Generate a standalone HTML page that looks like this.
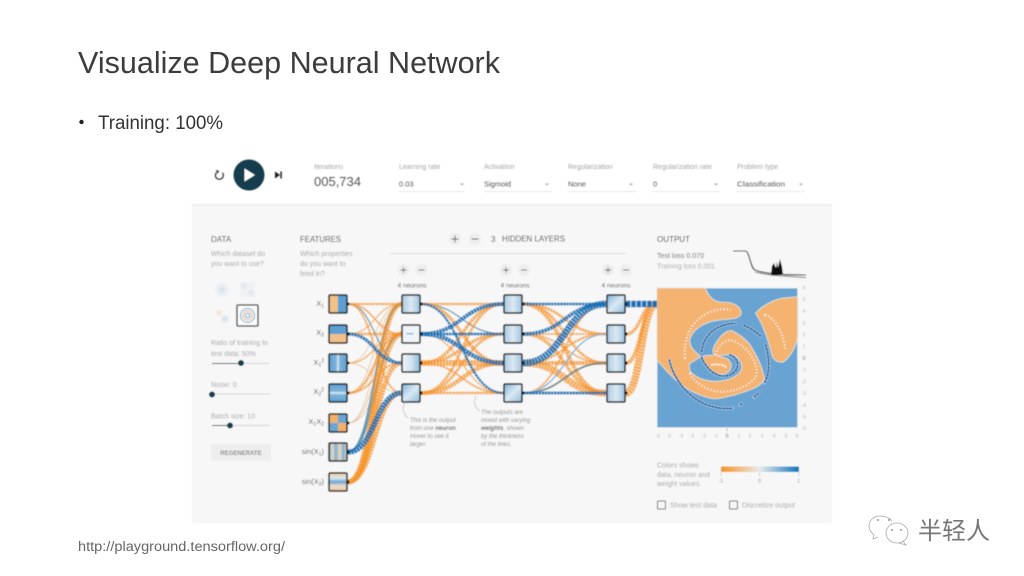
<!DOCTYPE html>
<html><head><meta charset="utf-8"><style>
html,body{margin:0;padding:0;background:#fff}
svg{display:block}
text{font-family:"Liberation Sans","Noto Sans CJK SC",sans-serif}
.o path{fill:none;stroke:#f59322;stroke-opacity:.75;stroke-dasharray:2.6 .5}
.b path{fill:none;stroke:#1272b6;stroke-opacity:.92;stroke-dasharray:2.6 .5}
.g path{fill:none;stroke:#4d87a8;stroke-opacity:.8}
.t path{fill:none;stroke:#e5c7a0;stroke-width:.9}
.l{font-size:7px;fill:#a5a5a5}
.v{font-size:7.5px;fill:#555}
.h{font-size:8px;fill:#444}
.f{font-size:7.5px;fill:#555;text-anchor:end}
.s{font-size:5px}
.n{font-size:6px;fill:#8a8a8a;font-style:italic}
.tk{font-size:5px;fill:#b5b5b5;text-anchor:middle}
.m{font-size:6.5px;fill:#555;text-anchor:middle}
.node{fill:none;stroke:#1c1c1c;stroke-width:1.5}
</style></head><body>
<svg xmlns="http://www.w3.org/2000/svg" width="1024" height="576" viewBox="0 0 1024 576">
<defs>
<filter id="bl" x="-2%" y="-2%" width="104%" height="104%"><feGaussianBlur stdDeviation=".4"/></filter>
<filter id="bh" x="-5%" y="-5%" width="110%" height="110%"><feGaussianBlur stdDeviation=".7"/></filter>
<linearGradient id="cb"><stop offset="0" stop-color="#f59322"/><stop offset=".5" stop-color="#e8eaeb"/><stop offset="1" stop-color="#0877bd"/></linearGradient>
<linearGradient id="h1" x1="0" x2="1" y1="0" y2="1"><stop offset="0" stop-color="#7fb3d9"/><stop offset=".5" stop-color="#dbe9f3"/><stop offset="1" stop-color="#8dbbdc"/></linearGradient>
<linearGradient id="h2" x1="0" x2="1" y1="0" y2="0"><stop offset="0" stop-color="#f2f6f9"/><stop offset=".55" stop-color="#cfe1ee"/><stop offset="1" stop-color="#8ab9db"/></linearGradient>
<linearGradient id="h3" x1="0" x2="1" y1="0" y2="0"><stop offset="0" stop-color="#a9cbe3"/><stop offset=".5" stop-color="#dde9f2"/><stop offset="1" stop-color="#9fc5e0"/></linearGradient>
<linearGradient id="s1"><stop offset="0" stop-color="#5f9fd0"/><stop offset=".18" stop-color="#f2d8b8"/><stop offset=".38" stop-color="#7cb0d8"/><stop offset=".6" stop-color="#f2d8b8"/><stop offset=".8" stop-color="#7cb0d8"/><stop offset="1" stop-color="#f2d8b8"/></linearGradient>
<linearGradient id="s2" x1="0" x2="0" y1="0" y2="1"><stop offset="0" stop-color="#f2cfa6"/><stop offset=".3" stop-color="#d9e5ee"/><stop offset=".5" stop-color="#6aa6d4"/><stop offset=".7" stop-color="#e8dccb"/><stop offset="1" stop-color="#f0c9a0"/></linearGradient>
<linearGradient id="x1"><stop offset="0" stop-color="#5c9fd2"/><stop offset=".4" stop-color="#7fb3da"/><stop offset=".5" stop-color="#dde9f2"/><stop offset=".6" stop-color="#7fb3da"/><stop offset="1" stop-color="#5c9fd2"/></linearGradient>
<linearGradient id="x2" x1="0" x2="0" y1="0" y2="1"><stop offset="0" stop-color="#5c9fd2"/><stop offset=".4" stop-color="#7fb3da"/><stop offset=".5" stop-color="#dde9f2"/><stop offset=".6" stop-color="#7fb3da"/><stop offset="1" stop-color="#5c9fd2"/></linearGradient>
</defs>
<rect width="1024" height="576" fill="#fff"/>

<!-- slide text -->
<text x="78" y="73" font-size="31" fill="#3c3c3c" textLength="422" lengthAdjust="spacingAndGlyphs">Visualize Deep Neural Network</text>
<circle cx="81.500" cy="122" r="2.200" fill="#222"/>
<text x="98" y="129" font-size="19" fill="#333" textLength="125" lengthAdjust="spacingAndGlyphs">Training: 100%</text>
<text x="78" y="551" font-size="13.500" fill="#666" textLength="207" lengthAdjust="spacingAndGlyphs">http://playground.tensorflow.org/</text>

<g filter="url(#bl)">
<rect x="192" y="205" width="640" height="318" fill="#f7f7f7"/>
<rect x="192" y="204" width="640" height="2" fill="#eeeeee"/>

<!-- top bar -->
<path d="M216.200 172.800A4 4 0 1 0 222.500 172.800" fill="none" stroke="#444" stroke-width="1.400"/>
<path d="M216 169.800L219.500 171.200L216.800 174Z" fill="#444"/>
<circle cx="249" cy="175" r="15.500" fill="#183d4e"/>
<path d="M244.500 168.500L255 175L244.500 181.500Z" fill="#fff"/>
<path d="M275 171.500L280 175L275 178.500Z" fill="#222"/><rect x="280.300" y="171.500" width="1.500" height="7" fill="#222"/>
<text x="314" y="169" class="l" textLength="29" lengthAdjust="spacingAndGlyphs">Iterations</text>
<text x="314" y="186" font-size="12.500" fill="#555" textLength="47" lengthAdjust="spacingAndGlyphs">005,734</text>
<text x="399" y="169" class="l">Learning rate</text><text x="399" y="186.500" class="v">0.03</text>
<text x="484" y="169" class="l">Activation</text><text x="484" y="186.500" class="v">Sigmoid</text>
<text x="568" y="169" class="l">Regularization</text><text x="568" y="186.500" class="v">None</text>
<text x="653" y="169" class="l">Regularization rate</text><text x="653" y="186.500" class="v">0</text>
<text x="737" y="169" class="l">Problem type</text><text x="737" y="186.500" class="v" textLength="48" lengthAdjust="spacingAndGlyphs">Classification</text>
<g stroke="#e2e2e2" stroke-width=".8"><path d="M399 191.500H465M484 191.500H552M568 191.500H636M653 191.500H720M737 191.500H805"/></g>
<g fill="#aaa"><path d="M460 183.500h4l-2 2zM545 183.500h4l-2 2zM629 183.500h4l-2 2zM714 183.500h4l-2 2zM799 183.500h4l-2 2z"/></g>

<!-- headers -->
<text x="211" y="242" class="h">DATA</text>
<text x="211" y="256" class="l">Which dataset do</text>
<text x="211" y="266" class="l">you want to use?</text>
<text x="300" y="242" class="h" textLength="41" lengthAdjust="spacingAndGlyphs">FEATURES</text>
<text x="300" y="256" class="l">Which properties</text>
<text x="300" y="266" class="l">do you want to</text>
<text x="300" y="276" class="l">feed in?</text>
<circle cx="455" cy="239" r="6" fill="#eee"/><circle cx="475" cy="239" r="6" fill="#eee"/>
<path d="M451.500 239h7M455 235.500v7M471.500 239h7" stroke="#555" stroke-width=".9"/>
<text x="491" y="242" class="h">3</text>
<text x="502" y="241.500" class="h" textLength="63" lengthAdjust="spacingAndGlyphs">HIDDEN LAYERS</text>
<path d="M390 253.500H627" stroke="#dedede" stroke-width=".9"/>
<text x="657" y="242" class="h" textLength="33" lengthAdjust="spacingAndGlyphs">OUTPUT</text>
<text x="657" y="258" font-size="7" fill="#666" textLength="47" lengthAdjust="spacingAndGlyphs">Test loss 0.070</text>
<text x="657" y="268.500" font-size="7" fill="#aaa" textLength="58" lengthAdjust="spacingAndGlyphs">Training loss 0.001</text>

<!-- loss curve -->
<path d="M755 272C770 276 790 276.500 806 277.500" fill="none" stroke="#666" stroke-width=".9"/>
<path d="M733 251H745C750 251 750 268 755 270C765 274 785 275 806 275" fill="none" stroke="#222" stroke-width="1.100"/>
<path d="M771 275L772 266L774 263L775 266L776 268L777 262L778 268L780 259L782 267L783 275Z" fill="#111"/>

<!-- layer buttons -->
<g fill="#eee"><circle cx="403.500" cy="270" r="6"/><circle cx="421.500" cy="270" r="6"/><circle cx="506" cy="270" r="6"/><circle cx="524" cy="270" r="6"/><circle cx="608" cy="270" r="6"/><circle cx="626" cy="270" r="6"/></g>
<path d="M400.500 270h6M403.500 267v6M418.500 270h6M503 270h6M506 267v6M521 270h6M605 270h6M608 267v6M623 270h6" stroke="#666" stroke-width=".9"/>
<text x="412" y="287.500" class="m">4 neurons</text><text x="515" y="287.500" class="m">4 neurons</text><text x="616" y="287.500" class="m">4 neurons</text>

<!-- data set -->
<g opacity=".35" filter="url(#bh)">
<circle cx="222" cy="290" r="7" fill="#d8e4ee"/><circle cx="222" cy="290" r="3" fill="#9dbfd9"/>
<rect x="240" y="282" width="15" height="15" fill="#e8e8e8"/><rect x="241" y="283" width="6" height="6" fill="#bcd3e6"/><rect x="248" y="290" width="6" height="6" fill="#bcd3e6"/>
<circle cx="219" cy="313" r="3" fill="#f1c691"/><circle cx="225" cy="319" r="3.500" fill="#a5c6df"/>
</g>
<rect x="237" y="305" width="21" height="21" rx="1" fill="#fff" stroke="#222" stroke-width="1.300"/>
<g fill="none"><circle cx="247.500" cy="315.500" r="7" stroke="#8fb8d8" stroke-width="1.300"/><circle cx="247.500" cy="315.500" r="4.600" stroke="#e5bd8e" stroke-width="1.200"/><circle cx="247.500" cy="315.500" r="2.300" stroke="#6ea5cf" stroke-width="1.200"/></g>

<!-- sliders -->
<text x="211" y="345" class="l">Ratio of training to</text>
<text x="211" y="356" class="l">test data:  50%</text>
<path d="M212 363.500H270M212 394H270M212 425.500H270" stroke="#d5d5d5" stroke-width=".9"/>
<path d="M212 363.500H241M212 425.500H230" stroke="#2c4a58" stroke-width="1"/>
<circle cx="241" cy="363" r="3" fill="#183d4e"/><circle cx="212" cy="394.500" r="3" fill="#183d4e"/><circle cx="230" cy="425.500" r="3" fill="#183d4e"/>
<text x="211" y="387" class="l">Noise:  0</text>
<text x="211" y="418.500" class="l">Batch size:  10</text>
<rect x="211" y="444" width="60" height="17" fill="#eeeeee"/>
<text x="241" y="455" font-size="6" font-weight="bold" fill="#8b8b8b" text-anchor="middle">REGENERATE</text>

<!-- feature labels -->
<text x="324" y="306" class="f">X<tspan class="s" dy="1.500">1</tspan></text>
<text x="324" y="335" class="f">X<tspan class="s" dy="1.500">2</tspan></text>
<text x="324" y="365" class="f">X<tspan class="s" dy="1.500">1</tspan><tspan class="s" dy="-4">2</tspan></text>
<text x="324" y="394" class="f">X<tspan class="s" dy="1.500">2</tspan><tspan class="s" dy="-4">2</tspan></text>
<text x="324" y="424" class="f">X<tspan class="s" dy="1.500">1</tspan><tspan dy="-1.500">X</tspan><tspan class="s" dy="1.500">2</tspan></text>
<text x="324" y="454" class="f">sin(X<tspan class="s" dy="1.500">1</tspan><tspan dy="-1.500">)</tspan></text>
<text x="324" y="484" class="f">sin(X<tspan class="s" dy="1.500">2</tspan><tspan dy="-1.500">)</tspan></text>

<!-- links: features to layer 1 -->
<g class="t">
<path d="M348 363C375 363 375 304 402 304"/><path d="M348 363C375 363 375 393 402 393"/>
<path d="M348 423C375 423 375 334 402 334"/><path d="M348 423C375 423 375 363 402 363"/><path d="M348 423C375 423 375 304 402 304"/><path d="M348 393C375 393 375 304 402 304"/>
</g>
<g class="g">
<path d="M348 304C375 304 375 363 402 363" stroke-width="1.300"/>
<path d="M348 452C375 452 375 304 402 304" stroke-width="2.400"/>
<path d="M348 452C375 452 375 334 402 334" stroke-width="2"/>
</g>
<g class="o">
<path d="M348 304H402" stroke-width="2.300"/>
<path d="M348 304C375 304 375 334 402 334" stroke-width="2"/>
<path d="M348 304C375 304 375 393 402 393" stroke-width="2"/>
<path d="M348 334H402" stroke-width="2.600"/>
<path d="M348 334C375 334 375 304 402 304" stroke-width="1.300"/>
<path d="M348 363C375 363 375 334 402 334" stroke-width="1.600"/>
<path d="M348 393C375 393 375 334 402 334" stroke-width="2.800"/>
<path d="M348 393C375 393 375 363 402 363" stroke-width="2"/>
<path d="M348 482C375 482 375 304 402 304" stroke-width="5"/>
<path d="M348 482C375 482 375 334 402 334" stroke-width="5.500"/>
<path d="M348 482C375 482 375 363 402 363" stroke-width="4.500"/>
<path d="M348 482C375 482 375 393 402 393" stroke-width="4.500"/>
</g>
<g class="b">
<path d="M348 334C375 334 375 363 402 363" stroke-width="3.400"/>
<path d="M348 452C375 452 375 393 402 393" stroke-width="5.500"/>
</g>

<!-- layer 1 to 2 -->
<g class="g">
<path d="M421 304C462 304 462 334 504 334" stroke-width="1.300"/>
</g>
<g class="o">
<path d="M421 304H504" stroke-width="2.400"/>
<path d="M421 304C462 304 462 363 504 363" stroke-width="3.300"/>
<path d="M421 334C462 334 462 393 504 393" stroke-width="1.400"/>
<path d="M421 363C462 363 462 304 504 304" stroke-width="3.300"/>
<path d="M421 363C462 363 462 334 504 334" stroke-width="3.300"/>
<path d="M421 363H504" stroke-width="6"/>
<path d="M421 363C462 363 462 393 504 393" stroke-width="2"/>
<path d="M421 393C462 393 462 304 504 304" stroke-width="2.800"/>
<path d="M421 393C462 393 462 334 504 334" stroke-width="2.800"/>
<path d="M421 393C462 393 462 363 504 363" stroke-width="4.500"/>
<path d="M421 393H504" stroke-width="2.400"/>
</g>
<g class="b">
<path d="M421 334C462 334 462 304 504 304" stroke-width="4"/>
<path d="M421 334H504" stroke-width="2.800"/>
<path d="M421 334C462 334 462 363 504 363" stroke-width="4.500"/>
<path d="M421 304C462 304 462 393 504 393" stroke-width="2.400"/>
</g>

<!-- layer 2 to 3 -->
<g class="o">
<path d="M523 304C565 304 565 334 606 334" stroke-width="2.800"/>
<path d="M523 304C565 304 565 363 606 363" stroke-width="2.800"/>
<path d="M523 304C565 304 565 393 606 393" stroke-width="4"/>
<path d="M523 334H606" stroke-width="1.800"/>
<path d="M523 334C565 334 565 363 606 363" stroke-width="1.800"/>
<path d="M523 334C565 334 565 393 606 393" stroke-width="3.400"/>
<path d="M523 363C565 363 565 334 606 334" stroke-width="2.400"/>
<path d="M523 363H606" stroke-width="4"/>
<path d="M523 363C565 363 565 393 606 393" stroke-width="7"/>
<path d="M523 393C565 393 565 304 606 304" stroke-width="2"/>
<path d="M523 393C565 393 565 363 606 363" stroke-width="2"/>
</g>
<path d="M523 393C565 393 565 334 606 334" fill="none" stroke="#7fb2d6" stroke-width="1.300"/>
<g class="g"><path d="M523 393C565 393 565 363 606 363" stroke-width="1.700"/></g>
<g class="b">
<path d="M523 304H606" stroke-width="2.800"/>
<path d="M523 334C565 334 565 304 606 304" stroke-width="3.800"/>
<path d="M523 363C565 363 565 304 606 304" stroke-width="7"/>
<path d="M523 393H606" stroke-width="3"/>
</g>

<!-- heat map -->
<g transform="translate(650 280) scale(.3333)">
<rect x="22" y="25" width="420" height="417" fill="#67a3d2"/>
<g fill="#e8e2d8" stroke="#dfe4e6" stroke-width="5" stroke-linejoin="round">
<path d="M22 25H165C175 50 190 70 225 68C255 68 275 85 272 103C265 118 230 115 200 120C160 125 125 150 118 180C118 205 135 215 150 230L118 250C115 262 118 272 122 278C140 295 165 305 195 305C235 305 270 290 276 265C278 245 265 228 245 222C225 222 205 228 195 225C185 215 192 195 215 168C225 158 235 153 245 153C270 165 295 185 305 205C320 230 338 265 342 298C330 320 300 330 250 345C220 352 205 356 190 355C160 350 120 335 85 305C60 285 40 260 22 240Z"/>
<path d="M155 232C175 222 215 228 235 240C248 255 245 270 225 280C200 285 175 275 155 232Z"/>
<path d="M318 100C335 80 370 60 400 55L442 52V170C438 195 425 225 400 245C385 247 375 242 368 228C358 190 345 140 318 100Z"/>
</g>
<g fill="#f4b36f">
<path d="M22 25H165C175 50 190 70 225 68C255 68 275 85 272 103C265 118 230 115 200 120C160 125 125 150 118 180C118 205 135 215 150 230L118 250C115 262 118 272 122 278C140 295 165 305 195 305C235 305 270 290 276 265C278 245 265 228 245 222C225 222 205 228 195 225C185 215 192 195 215 168C225 158 235 153 245 153C270 165 295 185 305 205C320 230 338 265 342 298C330 320 300 330 250 345C220 352 205 356 190 355C160 350 120 335 85 305C60 285 40 260 22 240Z"/>
<path d="M155 232C175 222 215 228 235 240C248 255 245 270 225 280C200 285 175 275 155 232Z"/>
<path d="M318 100C335 80 370 60 400 55L442 52V170C438 195 425 225 400 245C385 247 375 242 368 228C358 190 345 140 318 100Z"/>
</g>
<g fill="none" stroke-linecap="round">
<g stroke="#fff" stroke-width="8.500" stroke-dasharray="6 5" opacity=".8">
<path d="M58 240C68 290 110 350 165 372C195 385 225 388 250 384M275 372L268 376M325 340L312 352"/>
<path d="M155 215C160 165 200 132 255 130M282 136C300 145 318 155 332 168M347 195C358 230 362 280 342 310"/>
<path d="M155 232C170 270 200 290 225 288C255 285 272 260 258 238C252 228 245 226 238 225"/>
</g>
<g stroke="#135f9c" stroke-width="6" stroke-dasharray="5 6">
<path d="M58 240C68 290 110 350 165 372C195 385 225 388 250 384M275 372L268 376M325 340L312 352"/>
<path d="M155 215C160 165 200 132 255 130M282 136C300 145 318 155 332 168M347 195C358 230 362 280 342 310"/>
<path d="M155 232C170 270 200 290 225 288C255 285 272 260 258 238C252 228 245 226 238 225"/>
</g>
<g stroke="#fff" stroke-width="5" stroke-dasharray="4 6" opacity=".85">
<path d="M105 235C100 190 115 130 170 100C195 90 215 85 240 90"/>
<path d="M345 105C375 110 405 170 405 210"/>
<path d="M120 280C125 300 170 335 215 335C265 335 315 310 320 280C322 240 285 190 240 180C215 185 200 205 195 230"/>
<path d="M185 255C200 250 225 255 228 262"/>
</g>
<g stroke="#e88f33" stroke-width="3" stroke-dasharray="3 7" stroke-dashoffset="4">
<path d="M105 235C100 190 115 130 170 100C195 90 215 85 240 90"/>
<path d="M345 105C375 110 405 170 405 210"/>
<path d="M120 280C125 300 170 335 215 335C265 335 315 310 320 280C322 240 285 190 240 180C215 185 200 205 195 230"/>
</g>
</g>
</g>

<!-- output links -->
<g class="o">
<path d="M626 334C641 334 641 303 657 303" stroke-width="3.500"/>
<path d="M626 363C641 363 641 303 657 303" stroke-width="4"/>
<path d="M626 393C641 393 641 304 657 304" stroke-width="7.500" stroke-opacity=".9"/>
</g>
<path d="M626 304H657" fill="none" stroke="#1272b6" stroke-width="6.500" stroke-dasharray="4.500 .8"/>

<!-- feature nodes -->
<g>
<rect x="329" y="295" width="9" height="18" fill="#f2c18a"/><rect x="338" y="295" width="9" height="18" fill="#5c9fd2"/>
<rect x="329" y="325" width="18" height="9" fill="#5c9fd2"/><rect x="329" y="334" width="18" height="9" fill="#f2c18a"/>
<rect x="329" y="354" width="18" height="18" fill="url(#x1)"/>
<rect x="329" y="384" width="18" height="18" fill="url(#x2)"/>
<rect x="329" y="414" width="9" height="9" fill="#f2b06c"/><rect x="338" y="414" width="9" height="9" fill="#6aa6d4"/><rect x="329" y="423" width="9" height="9" fill="#6aa6d4"/><rect x="338" y="423" width="9" height="9" fill="#f2b06c"/>
<rect x="329" y="443" width="18" height="18" fill="url(#s1)"/>
<rect x="329" y="473" width="18" height="18" fill="url(#s2)"/>
</g>
<g class="node">
<rect x="329" y="295" width="18" height="18" rx="1"/><rect x="329" y="325" width="18" height="18" rx="1"/><rect x="329" y="354" width="18" height="18" rx="1"/><rect x="329" y="384" width="18" height="18" rx="1"/><rect x="329" y="414" width="18" height="18" rx="1"/><rect x="329" y="443" width="18" height="18" rx="1"/><rect x="329" y="473" width="18" height="18" rx="1"/>
</g>

<!-- hidden nodes -->
<g stroke="#1c1c1c" stroke-width="1.500">
<rect x="402" y="295" width="18" height="18" rx="1" fill="url(#h3)"/>
<rect x="402" y="325" width="18" height="18" rx="1" fill="#eef4f8"/>
<rect x="402" y="354" width="18" height="18" rx="1" fill="url(#h2)"/>
<rect x="402" y="384" width="18" height="18" rx="1" fill="url(#h1)"/>
<rect x="504" y="295" width="18" height="18" rx="1" fill="url(#h3)"/>
<rect x="504" y="325" width="18" height="18" rx="1" fill="url(#h3)"/>
<rect x="504" y="354" width="18" height="18" rx="1" fill="url(#h3)"/>
<rect x="504" y="384" width="18" height="18" rx="1" fill="url(#h1)"/>
<rect x="607" y="295" width="18" height="18" rx="1" fill="url(#h1)"/>
<rect x="607" y="325" width="18" height="18" rx="1" fill="url(#h3)"/>
<rect x="607" y="354" width="18" height="18" rx="1" fill="url(#h3)"/>
<rect x="607" y="384" width="18" height="18" rx="1" fill="url(#h3)"/>
</g>
<path d="M406 333h8l-1 1.500h-6z" fill="#8fbbdc"/>
<g fill="#111">
<circle cx="348" cy="304" r="1.500"/><circle cx="348" cy="334" r="1.500"/><circle cx="348" cy="363" r="1.500"/><circle cx="348" cy="393" r="1.500"/><circle cx="348" cy="423" r="1.500"/><circle cx="348" cy="452" r="1.500"/><circle cx="348" cy="482" r="1.500"/>
<circle cx="421" cy="304" r="1.500"/><circle cx="421" cy="334" r="1.500"/><circle cx="421" cy="363" r="1.500"/><circle cx="421" cy="393" r="1.500"/>
<circle cx="523" cy="304" r="1.500"/><circle cx="523" cy="334" r="1.500"/><circle cx="523" cy="363" r="1.500"/><circle cx="523" cy="393" r="1.500"/>
<circle cx="626" cy="304" r="1.500"/><circle cx="626" cy="334" r="1.500"/><circle cx="626" cy="363" r="1.500"/><circle cx="626" cy="393" r="1.500"/>
</g>

<!-- annotations -->
<path d="M405 403C402 408 403 414 408 418M476 396C473 402 475 408 480 411" fill="none" stroke="#bbb" stroke-width=".7"/>
<text x="410" y="422" class="n">This is the output</text>
<text x="410" y="430" class="n">from one <tspan font-weight="bold" fill="#666">neuron</tspan>.</text>
<text x="410" y="438" class="n">Hover to see it</text>
<text x="410" y="446" class="n">larger.</text>
<text x="481" y="414" class="n">The outputs are</text>
<text x="481" y="422" class="n">mixed with varying</text>
<text x="481" y="430" class="n"><tspan font-weight="bold" fill="#666">weights</tspan>, shown</text>
<text x="481" y="438" class="n">by the thickness</text>
<text x="481" y="446" class="n">of the lines.</text>

<!-- axis ticks -->
<text x="804" y="289.500" class="tk">6</text><text x="804" y="301" class="tk">5</text><text x="804" y="313" class="tk">4</text><text x="804" y="325" class="tk">3</text><text x="804" y="336.500" class="tk">2</text><text x="804" y="348" class="tk">1</text><text x="804" y="360" class="tk" style="fill:#555">0</text><text x="804" y="371.500" class="tk">-1</text><text x="804" y="383" class="tk">-2</text><text x="804" y="395" class="tk">-3</text><text x="804" y="407" class="tk">-4</text><text x="804" y="418.500" class="tk">-5</text><text x="804" y="430" class="tk">-6</text>
<path d="M727 428v3" stroke="#999" stroke-width=".6"/>
<text x="658" y="437.500" class="tk">-6</text><text x="669" y="437.500" class="tk">-5</text><text x="681" y="437.500" class="tk">-4</text><text x="692" y="437.500" class="tk">-3</text><text x="704" y="437.500" class="tk">-2</text><text x="716" y="437.500" class="tk">-1</text><text x="727" y="437.500" class="tk" style="fill:#555">0</text><text x="739" y="437.500" class="tk">1</text><text x="750" y="437.500" class="tk">2</text><text x="762" y="437.500" class="tk">3</text><text x="774" y="437.500" class="tk">4</text><text x="786" y="437.500" class="tk">5</text><text x="797" y="437.500" class="tk">6</text>

<!-- legend -->
<text x="657" y="467.500" class="l">Colors shows</text>
<text x="657" y="477" class="l">data, neuron and</text>
<text x="657" y="486" class="l">weight values.</text>
<rect x="721" y="466.500" width="78" height="5.500" fill="url(#cb)"/>
<path d="M721 472v4M759.500 472v4M799 472v4" stroke="#bbb" stroke-width=".6"/>
<text x="721" y="482.500" class="tk" style="fill:#888">-1</text><text x="759.500" y="482.500" class="tk" style="fill:#888">0</text><text x="798.500" y="482.500" class="tk" style="fill:#888">1</text>
<rect x="657.500" y="501" width="8" height="8" rx="1" fill="none" stroke="#666" stroke-width="1"/>
<text x="670" y="507.500" class="l" textLength="47" lengthAdjust="spacingAndGlyphs">Show test data</text>
<rect x="729.500" y="501" width="8" height="8" rx="1" fill="none" stroke="#666" stroke-width="1"/>
<text x="742" y="507.500" class="l" textLength="53" lengthAdjust="spacingAndGlyphs">Discretize output</text>
</g>

<!-- watermark -->
<g fill="none" stroke="#aaa" stroke-width=".8">
<path d="M892 521C889 517 884 516 880 516C873 516 869 521 869 526C869 530 871 532 874 535L873 539L878 537"/>
<ellipse cx="897" cy="533" rx="11" ry="10"/>
<path d="M903 541L906 545L899 543"/>
</g>
<g fill="#999"><circle cx="878" cy="520" r="1"/><circle cx="889" cy="520" r="1"/><circle cx="892" cy="530" r="1"/><circle cx="901" cy="530" r="1"/></g>
<text x="918" y="539" font-size="24" fill="#777" textLength="72">半轻人</text>
</svg>
</body></html>
